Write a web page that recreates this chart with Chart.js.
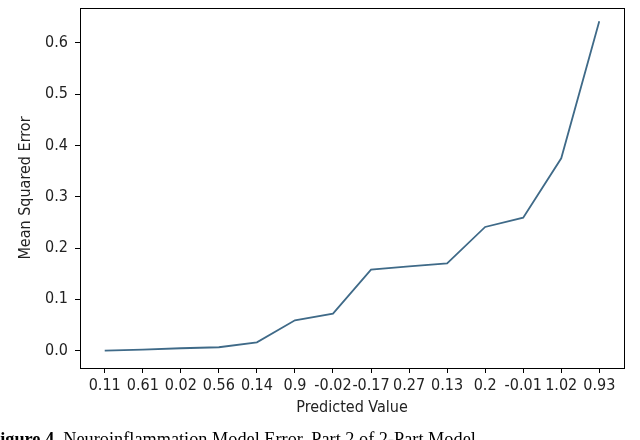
<!DOCTYPE html>
<html>
<head>
<meta charset="utf-8">
<script src="https://cdn.jsdelivr.net/npm/chart.js@4.4.0/dist/chart.umd.min.js"></script>
<style>
  html, body { margin: 0; padding: 0; background: #fff; }
  #wrap { position: relative; width: 640px; height: 440px; overflow: hidden; }
  #c { position: absolute; left: 0; top: 0; }
  #cap { position: absolute; left: -11px; top: 430px; font-family: "Liberation Serif", "Times New Roman", serif; font-size: 18.3px; line-height: 1; color: #000; white-space: nowrap; }
</style>
</head>
<body>
<div id="wrap">
  <canvas id="c" width="640" height="440"></canvas>
  <div id="cap"><b>Figure 4.</b> Neuroinflammation Model Error, Part 2 of 2-Part Model</div>
</div>
<script>
const categories = ["0.11", "0.61", "0.02", "0.56", "0.14", "0.9", "-0.02", "-0.17", "0.27", "0.13", "0.2", "-0.01", "1.02", "0.93"];
const mseValues = [0.000, 0.002, 0.0045, 0.0065, 0.016, 0.059, 0.072, 0.158, 0.164, 0.170, 0.241, 0.259, 0.375, 0.642];
const yTicks = [0.0, 0.1, 0.2, 0.3, 0.4, 0.5, 0.6];

const points = mseValues.map((v, i) => ({ x: i, y: v }));

const framePlugin = {
  id: 'frame',
  afterDraw(chart) {
    const { ctx, chartArea: a } = chart;
    ctx.save();
    ctx.strokeStyle = '#000';
    ctx.lineWidth = 1;
    ctx.strokeRect(Math.round(a.left) + 0.5, Math.round(a.top) + 0.5, Math.round(a.right - a.left), Math.round(a.bottom - a.top));
    ctx.restore();
  }
};

const font = { family: '"DejaVu Sans Condensed", "DejaVu Sans", sans-serif', size: 16 };

new Chart(document.getElementById('c'), {
  type: 'line',
  data: {
    datasets: [{
      data: points,
      borderColor: '#3f6a88',
      borderWidth: 1.8,
      pointRadius: 0,
      tension: 0,
      fill: false
    }]
  },
  options: {
    responsive: false,
    animation: false,
    events: [],
    layout: { padding: { left: 0, right: 16, top: 8, bottom: 22 } },
    plugins: { legend: { display: false }, tooltip: { enabled: false } },
    scales: {
      x: {
        type: 'linear',
        min: -0.65,
        max: categories.length - 1 + 0.65,
        afterBuildTicks(scale) { scale.ticks = categories.map((c, i) => ({ value: i })); },
        afterFit(scale) { scale.height = 50; },
        ticks: {
          autoSkip: false, maxRotation: 0, minRotation: 0, padding: 3,
          color: '#222', font,
          callback(v) { return categories[v]; }
        },
        grid: { display: true, drawOnChartArea: false, drawTicks: true, tickLength: 5, color: '#000' },
        border: { display: true, color: '#000' },
        title: { display: true, text: 'Predicted Value', color: '#222', font, padding: { top: 2, bottom: 1 } }
      },
      y: {
        type: 'linear',
        min: -0.034,
        max: 0.668,
        afterBuildTicks(scale) { scale.ticks = yTicks.map(v => ({ value: v })); },
        afterFit(scale) { scale.width = 80; scale.paddingTop = 0; scale.paddingBottom = 0; },
        ticks: {
          color: '#222', font, padding: 7,
          callback(v) { return v.toFixed(1); }
        },
        grid: { display: true, drawOnChartArea: false, drawTicks: true, tickLength: 5, color: '#000' },
        border: { display: true, color: '#000' },
        title: { display: true, text: 'Mean Squared Error', color: '#222', font, padding: { top: 16, bottom: 0 } }
      }
    }
  },
  plugins: [framePlugin]
});
</script>
</body>
</html>
